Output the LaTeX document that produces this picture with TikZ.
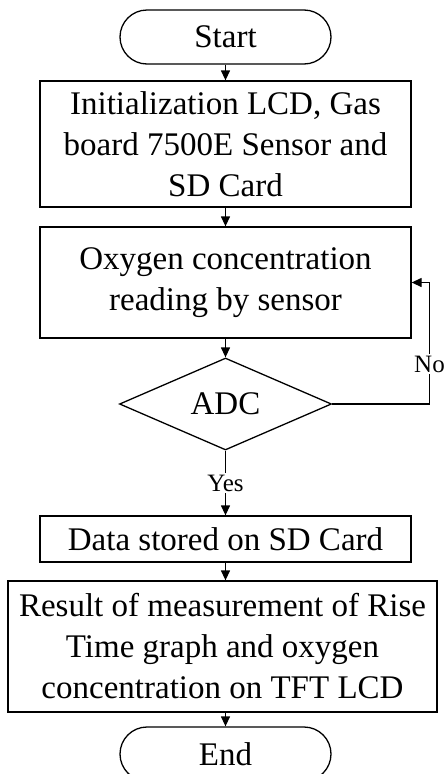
\documentclass[tikz,border=0pt]{standalone}
\usepackage{fontspec}
\setmainfont{Liberation Serif}
\usetikzlibrary{shapes.geometric,arrows.meta}
\tikzset{
  every node/.style={font=\fontsize{33}{41}\selectfont, inner sep=0pt, align=center},
  box/.style={draw, line width=1.3pt, rectangle},
  term/.style={draw, line width=1.3pt, rectangle, rounded corners=27pt, minimum width=211pt, minimum height=54pt},
  dec/.style={draw, line width=1.3pt, diamond, aspect=2.3, minimum width=212pt, minimum height=92pt},
  lbl/.style={font=\fontsize{25}{29}\selectfont, fill=white, inner sep=2pt},
  arr/.style={line width=1.3pt, -{Triangle[length=10pt,width=9pt]}},
  ln/.style={line width=1.3pt}
}
\begin{document}
\begin{tikzpicture}[x=1pt,y=-1pt]
\useasboundingbox (0,0) rectangle (444,774);
\clip (0,0) rectangle (444,774);
\node[term] (start) at (225.5,37) {Start};
\node[box, minimum width=371pt, minimum height=126pt] (init) at (225.5,144) {Initialization LCD, Gas\\board 7500E Sensor and\\SD Card};
\node[box, minimum width=371pt, minimum height=111pt] (oxy) at (225.5,282.5) {Oxygen concentration\\reading by sensor};
\node[dec] (adc) at (225.5,404) {ADC};
\node[box, minimum width=371pt, minimum height=46pt] (data) at (225.5,539) {Data stored on SD Card};
\node[box, minimum width=429pt, minimum height=131pt] (res) at (222.5,646.5) {Result of measurement of Rise\\Time graph and oxygen\\concentration on TFT LCD};
\node[term] (end) at (225.5,754) {End};
\coordinate (nx) at (429.5,0);
\draw[arr] (start.south) -- (init.north);
\draw[arr] (init.south) -- (oxy.north);
\draw[arr] (oxy.south) -- (adc.north);
\draw[arr] (adc.south) -- (adc.south |- data.north) node[lbl, pos=0.5] (yes) {Yes};
\draw[arr] (adc.east) -| (nx |- oxy.east) -- (oxy.east);
\node[lbl] (no) at (429.5,364) {No};
\draw[arr] (res.south -| data.north) -- (end.north);
\draw[arr] (data.south) -- (data.south |- res.north);
\end{tikzpicture}
\end{document}
